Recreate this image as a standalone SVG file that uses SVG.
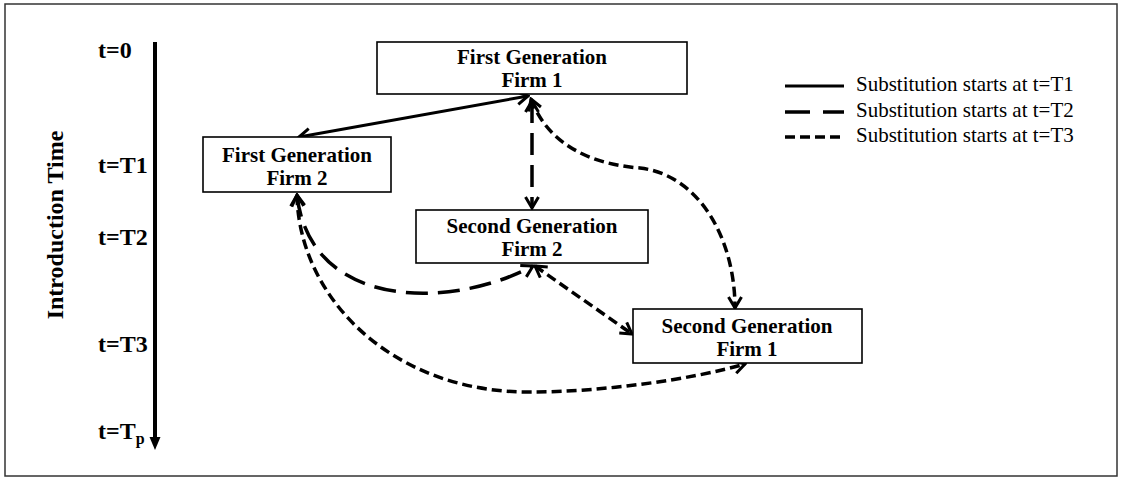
<svg xmlns="http://www.w3.org/2000/svg" width="1122" height="479" viewBox="0 0 1122 479">
<style>
.node rect{fill:#fff;stroke:#000;stroke-width:1.6}
.node text{font-family:"Liberation Serif",serif;font-weight:bold;font-size:21px;text-anchor:middle;fill:#000}
.ax{font-family:"Liberation Serif",serif;font-weight:bold;font-size:24px;fill:#000}
.leg{font-family:"Liberation Serif",serif;font-size:21px;fill:#000}
.c{fill:none;stroke:#000}
.solid{stroke-width:3}
.long{stroke-width:3.5;stroke-dasharray:22 10}
.short{stroke-width:3.5;stroke-dasharray:10 5}
</style>
<defs>
<marker id="arr" viewBox="-13 -8 15 16" refX="0" refY="0" markerWidth="15" markerHeight="16" markerUnits="userSpaceOnUse" orient="auto-start-reverse">
<path d="M-11,-6.5 L0,0 L-11,6.5" fill="none" stroke="#000" stroke-width="3" stroke-dasharray="none"/>
</marker>
</defs>
<rect x="5" y="4" width="1112" height="472" fill="#fff" stroke="#333" stroke-width="1.5"/>
<g id="axis">
<line x1="155" y1="42" x2="155" y2="440" stroke="#000" stroke-width="4"/>
<polygon points="149.5,437 160.5,437 155,450" fill="#000"/>
<text class="ax" transform="translate(63,225) rotate(-90)" text-anchor="middle" font-size="23">Introduction Time</text>
<text class="ax" x="98" y="58">t=0</text>
<text class="ax" x="98" y="173">t=T1</text>
<text class="ax" x="98" y="245">t=T2</text>
<text class="ax" x="98" y="352">t=T3</text>
<text class="ax" x="98" y="439">t=T<tspan font-size="16" dy="5">p</tspan></text>
</g>
<g id="connectors">
<line class="c solid" x1="299" y1="137" x2="528" y2="96" marker-start="url(#arr)" marker-end="url(#arr)"/>
<line class="c long" x1="532" y1="101" x2="532" y2="208" marker-start="url(#arr)" marker-end="url(#arr)"/>
<path class="c long" d="M297,195 C310,310 450,310 533,266" marker-start="url(#arr)" marker-end="url(#arr)"/>
<path class="c short" d="M297,195 C299,300 395,393 530,392 C600,392 690,380 745,364" marker-start="url(#arr)" marker-end="url(#arr)"/>
<path class="c short" d="M531,99 C550,150 600,165 640,168 C700,175 735,240 735,308" marker-start="url(#arr)" marker-end="url(#arr)"/>
<line class="c short" x1="535" y1="266" x2="632" y2="334" marker-start="url(#arr)" marker-end="url(#arr)"/>
</g>
<g id="fg1" class="node">
<rect x="377" y="42" width="310" height="52"/>
<text x="532" y="64">First Generation</text>
<text x="532" y="87">Firm 1</text>
</g>
<g id="fg2" class="node">
<rect x="203" y="137" width="188" height="55"/>
<text x="297" y="162">First Generation</text>
<text x="297" y="185">Firm 2</text>
</g>
<g id="sg2" class="node">
<rect x="416" y="210" width="232" height="53"/>
<text x="532" y="233">Second Generation</text>
<text x="532" y="256">Firm 2</text>
</g>
<g id="sg1" class="node">
<rect x="633" y="309" width="229" height="54"/>
<text x="747" y="333">Second Generation</text>
<text x="747" y="356">Firm 1</text>
</g>
<g id="legend">
<line class="c solid" x1="785" y1="86" x2="844" y2="86"/>
<line class="c" stroke-width="3.5" stroke-dasharray="25 13" x1="785" y1="112" x2="844" y2="112"/>
<line class="c short" x1="785" y1="137" x2="844" y2="137"/>
<text class="leg" x="856" y="91">Substitution starts at t=T1</text>
<text class="leg" x="856" y="117">Substitution starts at t=T2</text>
<text class="leg" x="856" y="142">Substitution starts at t=T3</text>
</g>
</svg>
